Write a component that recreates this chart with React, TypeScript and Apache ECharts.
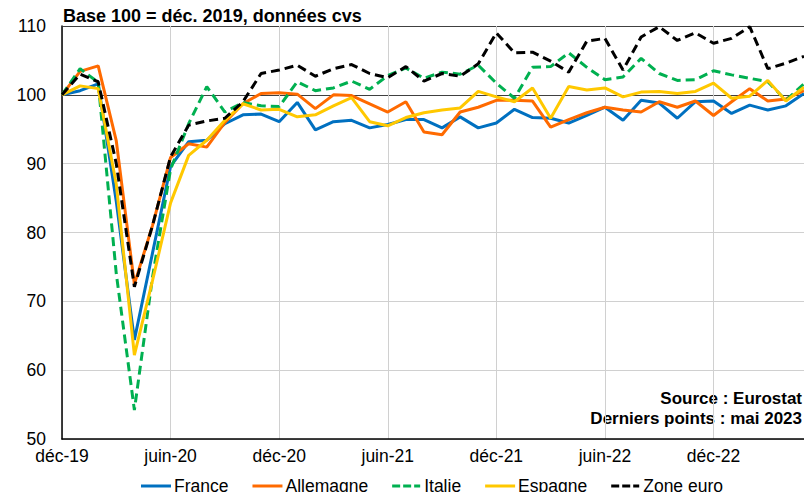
import React, { useEffect, useRef } from "react";
import * as echarts from "echarts";

const months = ["déc-19","janv-20","févr-20","mars-20","avr-20","mai-20","juin-20","juil-20","août-20","sept-20","oct-20","nov-20","déc-20","janv-21","févr-21","mars-21","avr-21","mai-21","juin-21","juil-21","août-21","sept-21","oct-21","nov-21","déc-21","janv-22","févr-22","mars-22","avr-22","mai-22","juin-22","juil-22","août-22","sept-22","oct-22","nov-22","déc-22","janv-23","févr-23","mars-23","avr-23","mai-23"];

const france = [100, 100.6, 101.6, 84.5, 64.4, 77, 89.6, 93.2, 93.4, 95.8, 97.1, 97.2, 96.1, 98.9, 94.9, 96.1, 96.3, 95.2, 95.7, 96.4, 96.4, 95.2, 96.8, 95.2, 95.9, 97.9, 96.7, 96.6, 95.9, 97.0, 98.2, 96.3, 99.2, 98.8, 96.6, 99.0, 99.1, 97.3, 98.5, 97.8, 98.4, 100.2];
const allemagne = [100, 103.4, 104.2, 93.3, 72.5, 81, 90.9, 92.9, 92.4, 96.0, 98.7, 100.2, 100.3, 100.1, 98.0, 100.0, 99.9, 98.7, 97.5, 99.0, 94.6, 94.2, 97.5, 98.2, 99.2, 99.2, 99.1, 95.3, 96.4, 97.4, 98.2, 97.8, 97.5, 99.0, 98.2, 99.1, 97.0, 99.0, 100.9, 99.1, 99.4, 100.6];
const italie = [100, 103.8, 101.8, 74, 54.2, 73.5, 89.2, 95.8, 101.2, 97.5, 98.9, 98.4, 98.3, 101.9, 100.6, 101.0, 102.0, 100.8, 102.8, 103.9, 102.4, 103.3, 103.0, 104.3, 101.7, 99.5, 104.0, 104.1, 106.1, 104.0, 102.2, 102.6, 105.3, 103.1, 102.1, 102.2, 103.5, 102.9, 102.4, 101.9, 99.2, 101.6];
const espagne = [100, 101.3, 100.9, 87, 62.2, 73, 84.3, 91.2, 93.4, 96.3, 98.7, 97.8, 97.9, 96.8, 97.1, 98.4, 99.6, 96.1, 95.5, 96.7, 97.4, 97.8, 98.1, 100.5, 99.7, 99.0, 101.0, 96.6, 101.2, 100.7, 101.0, 99.7, 100.4, 100.5, 100.2, 100.5, 101.7, 99.5, 99.8, 102.1, 99.1, 101.1];
const zoneEuro = [100, 103.0, 101.9, 90, 72.1, 81, 91.0, 95.6, 96.2, 96.6, 99.0, 103.1, 103.6, 104.3, 102.7, 103.8, 104.4, 103.1, 102.5, 104.1, 102.0, 103.1, 102.7, 104.5, 109.0, 106.1, 106.2, 104.9, 103.3, 107.8, 108.2, 103.6, 108.4, 109.9, 107.9, 109.0, 107.5, 108.2, 109.9, 103.8, 104.6, 105.6];

const seriesNames = ["France", "Allemagne", "Italie", "Espagne", "Zone euro"];
const titleText = "Base 100 = déc. 2019, données cvs";
const sourceLines = ["Source : Eurostat", "Derniers points : mai 2023"];

const FONT = "Arial, 'Liberation Sans', sans-serif";
const SOLID_ICON = "path://M0,0h30v3h-30z";
const DASH_ICON = "path://M0,0h8v3h-8z M11,0h8v3h-8z M22,0h6v3h-6z";

export default function App() {
  const ref = useRef<HTMLDivElement>(null);
  useEffect(() => {
    document.body.style.margin = "0";
    const chart = echarts.init(ref.current!, null, { renderer: "svg" });
    const mk = (name: string, data: number[], color: string, dashed: boolean) => ({
      name,
      type: "line",
      data,
      symbol: "none",
      showSymbol: false,
      lineStyle: { color, width: 3, type: dashed ? [9, 5] : "solid", cap: "butt" },
      itemStyle: { color },
    });
    const dashed = [false, false, true, false, true];
    chart.setOption({
      animation: false,
      textStyle: { fontFamily: FONT },
      grid: { left: 62, right: -9, top: 26, bottom: 53, containLabel: false },
      xAxis: {
        type: "category",
        data: months,
        boundaryGap: false,
        axisLine: { show: true, lineStyle: { color: "#000", width: 1.5 } },
        axisTick: { show: false },
        axisLabel: { interval: 5, color: "#000", fontSize: 17.5, fontFamily: FONT, margin: 8 },
        splitLine: { show: true, interval: 5, lineStyle: { color: "#d0d0d0", width: 1 } },
      },
      yAxis: {
        type: "value",
        min: 50,
        max: 110,
        interval: 10,
        axisLine: { show: true, lineStyle: { color: "#000", width: 1.5 } },
        axisTick: { show: false },
        axisLabel: { color: "#000", fontSize: 17.5, fontFamily: FONT, margin: 16 },
        splitLine: {
          show: true,
          lineStyle: {
            color: ["#d0d0d0", "#d0d0d0", "#d0d0d0", "#d0d0d0", "#d0d0d0", "#404040", "#404040"],
            width: 1.2,
          },
        },
      },
      legend: {
        data: seriesNames.map((n, i) => ({ name: n, icon: dashed[i] ? DASH_ICON : SOLID_ICON })),
        left: 136,
        top: 472,
        itemWidth: 30,
        itemHeight: 3,
        itemGap: 24,
        textStyle: { color: "#000", fontSize: 17.5, fontFamily: FONT, padding: [0, 0, 0, -2] },
      },
      graphic: [
        {
          type: "text",
          left: 63,
          top: 7,
          style: { text: titleText, fill: "#000", font: `bold 18px ${FONT}` },
        },
        {
          type: "text",
          right: 2,
          top: 390,
          style: { text: sourceLines[0], fill: "#000", font: `bold 17px ${FONT}`, align: "right", lineHeight: 17 },
        },
        {
          type: "text",
          right: 2,
          top: 410,
          style: { text: sourceLines[1], fill: "#000", font: `bold 17px ${FONT}`, align: "right", lineHeight: 17 },
        },
      ],
      series: [
        mk(seriesNames[0], france, "#0070C0", dashed[0]),
        mk(seriesNames[1], allemagne, "#FF6A00", dashed[1]),
        mk(seriesNames[2], italie, "#00B050", dashed[2]),
        mk(seriesNames[3], espagne, "#FFC800", dashed[3]),
        mk(seriesNames[4], zoneEuro, "#000000", dashed[4]),
      ],
    });
    return () => chart.dispose();
  }, []);
  return <div ref={ref} style={{ width: 804, height: 492 }} />;
}
